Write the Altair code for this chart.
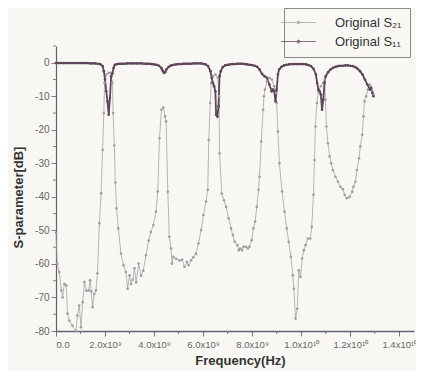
import altair as alt
import pandas as pd

# ---- data (frequency in GHz, level in dB) ----
s21_freq = [0.0, 0.05, 0.13, 0.22, 0.27, 0.34, 0.42, 0.47, 0.54, 0.67, 0.82, 0.87, 0.95, 1.02, 1.09,
            1.16, 1.24, 1.33, 1.39, 1.44, 1.49, 1.56, 1.63, 1.69, 1.77, 1.84, 1.9, 1.95, 1.98, 2.05,
            2.15, 2.25, 2.3, 2.33, 2.38, 2.42, 2.47, 2.54, 2.65, 2.75, 2.85, 2.92, 3.0, 3.06, 3.13,
            3.2, 3.27, 3.37, 3.47, 3.56, 3.67, 3.78, 3.87, 3.97, 4.08, 4.15, 4.22, 4.3, 4.38, 4.45,
            4.49, 4.56, 4.62, 4.69, 4.73, 4.79, 4.9, 5.04, 5.14, 5.24, 5.34, 5.41, 5.51, 5.6, 5.71,
            5.81, 5.92, 6.01, 6.12, 6.19, 6.23, 6.29, 6.33, 6.4, 6.5, 6.6, 6.65, 6.67, 6.76, 6.85,
            6.94, 7.04, 7.14, 7.21, 7.29, 7.4, 7.45, 7.51, 7.59, 7.64, 7.75, 7.82, 7.89, 7.98, 8.05,
            8.12, 8.19, 8.26, 8.3, 8.37, 8.45, 8.48, 8.52, 8.6, 8.7, 8.8, 8.9, 8.97, 9.0, 9.05,
            9.11, 9.22, 9.32, 9.41, 9.49, 9.58, 9.66, 9.7, 9.77, 9.84, 9.9, 9.97, 10.04, 10.11, 10.18,
            10.27, 10.37, 10.43, 10.5, 10.54, 10.58, 10.64, 10.7, 10.8, 10.9, 10.95, 10.99, 11.03, 11.09, 11.16,
            11.22, 11.29, 11.4, 11.5, 11.6, 11.7, 11.77, 11.86, 11.97, 12.08, 12.13, 12.21, 12.27, 12.36, 12.41,
            12.49, 12.54, 12.58, 12.65, 12.72, 12.8, 12.85, 12.9, 12.95]
s21_db = [-50.7, -60.0, -62.4, -67.9, -70.0, -65.9, -66.4, -74.8, -76.9, -78.4, -80.0, -75.4, -72.4, -78.9, -71.4,
          -65.4, -68.0, -67.9, -64.9, -68.2, -72.9, -69.0, -67.9, -62.8, -47.9, -38.9, -26.0, -15.0, -6.0, -3.5,
          -3.0, -3.0, -6.0, -15.0, -24.7, -35.7, -43.4, -49.4, -56.9, -60.4, -62.4, -67.4, -63.4, -66.0, -64.7,
          -61.3, -65.5, -59.9, -63.5, -62.0, -57.4, -53.0, -50.5, -48.4, -44.4, -38.4, -22.5, -14.0, -13.4, -16.0,
          -17.5, -38.5, -51.9, -55.4, -59.9, -57.9, -58.5, -59.0, -58.7, -60.9, -59.4, -60.4, -58.9, -58.0, -57.0,
          -53.9, -49.9, -45.4, -41.4, -37.9, -23.0, -12.0, -6.0, -4.0, -3.5, -4.5, -10.0, -27.0, -39.0, -41.0,
          -43.0, -46.4, -49.4, -51.4, -53.4, -54.4, -55.9, -55.4, -55.9, -54.9, -54.9, -55.4, -54.9, -52.9, -49.4,
          -47.4, -43.0, -37.9, -34.0, -23.5, -14.0, -10.0, -8.0, -5.5, -4.5, -5.0, -7.0, -9.0, -12.0, -20.5,
          -30.0, -38.4, -44.4, -49.4, -53.4, -57.9, -63.4, -67.4, -76.3, -73.4, -61.9, -63.9, -58.4, -55.9, -54.4,
          -52.4, -52.4, -48.9, -39.4, -29.0, -19.0, -12.0, -8.5, -7.0, -6.0, -5.0, -11.0, -19.0, -24.0, -27.9,
          -30.0, -32.0, -34.0, -35.5, -37.0, -37.7, -39.4, -40.4, -40.0, -38.5, -37.0, -35.5, -32.0, -28.5, -25.0,
          -21.5, -16.0, -11.5, -10.0, -8.0, -6.5, -7.5, -8.5, -9.5]

s11_freq = [0.0, 0.1, 0.2, 0.3, 0.4, 0.5, 0.6, 0.7, 0.8, 0.9, 1.0, 1.1, 1.2, 1.3, 1.4, 1.5, 1.6, 1.7, 1.8,
            1.9, 1.95, 2.0, 2.05, 2.1, 2.15, 2.2, 2.25, 2.3, 2.35, 2.4, 2.5, 2.6, 2.7, 2.8, 2.9, 3.0,
            3.1, 3.2, 3.3, 3.4, 3.5, 3.6, 3.7, 3.8, 3.9, 4.0, 4.1, 4.2, 4.3, 4.35, 4.4, 4.45, 4.5,
            4.6, 4.7, 4.8, 4.9, 5.0, 5.1, 5.2, 5.3, 5.4, 5.5, 5.6, 5.7, 5.8, 5.9, 6.0, 6.1, 6.2,
            6.3, 6.35, 6.4, 6.45, 6.5, 6.53, 6.58, 6.63, 6.67, 6.72, 6.8, 6.9, 7.0, 7.1, 7.2, 7.3,
            7.4, 7.5, 7.6, 7.7, 7.8, 7.9, 8.0, 8.1, 8.2, 8.3, 8.4, 8.5, 8.6, 8.7, 8.8, 8.85, 8.9,
            8.95, 9.0, 9.05, 9.1, 9.2, 9.3, 9.4, 9.5, 9.6, 9.7, 9.8, 9.9, 10.0, 10.1, 10.2, 10.3,
            10.4, 10.5, 10.6, 10.65, 10.7, 10.75, 10.8, 10.85, 10.9, 10.95, 11.0, 11.1, 11.2, 11.3, 11.4,
            11.5, 11.6, 11.7, 11.8, 11.9, 12.0, 12.1, 12.2, 12.3, 12.4, 12.5, 12.6, 12.7, 12.8, 12.85,
            12.9, 12.95]
s11_db = [-0.1, -0.1, -0.1, -0.1, -0.1, -0.1, -0.1, -0.1, -0.1, -0.1, -0.1, -0.1, -0.1, -0.1, -0.2, -0.2, -0.2, -0.3, -0.4,
          -1.0, -2.5, -5.0, -8.5, -11.5, -15.5, -10.5, -4.0, -3.2, -1.5, -0.6, -0.4, -0.3, -0.3, -0.3, -0.2, -0.2,
          -0.2, -0.2, -0.2, -0.2, -0.2, -0.3, -0.3, -0.3, -0.4, -0.5, -0.6, -0.9, -1.6, -2.4, -3.0, -2.8, -2.0,
          -1.2, -0.8, -0.6, -0.5, -0.4, -0.4, -0.3, -0.3, -0.3, -0.3, -0.2, -0.2, -0.2, -0.2, -0.3, -0.5, -1.0,
          -2.5, -4.5, -6.0, -7.0, -8.5, -15.5, -16.0, -13.0, -4.0, -2.5, -1.3, -0.8, -0.6, -0.5, -0.4, -0.4,
          -0.3, -0.3, -0.3, -0.4, -0.5, -0.6, -0.7, -0.9, -1.2, -2.0, -3.3, -4.0, -4.5, -6.5, -8.5, -8.0, -8.5,
          -11.5, -8.0, -3.5, -2.0, -1.2, -0.8, -0.6, -0.5, -0.4, -0.4, -0.4, -0.4, -0.4, -0.4, -0.5, -0.7,
          -1.0, -1.8, -3.5, -6.0, -8.0, -8.5, -9.5, -14.0, -11.0, -6.0, -4.0, -2.8, -2.0, -1.5, -1.2,
          -1.0, -0.9, -0.9, -0.8, -0.8, -0.9, -1.0, -1.3, -1.8, -2.5, -3.5, -5.0, -6.5, -8.0, -7.5,
          -9.0, -10.0]

series_names = ["Original S\u2082\u2081", "Original S\u2081\u2081"]
series_colors = ["#a29ea0", "#5e4658"]

x_major = [0, 2, 4, 6, 8, 10, 12, 14]
x_minor = [1, 3, 5, 7, 9, 11, 13]
y_major = [0, -10, -20, -30, -40, -50, -60, -70, -80]
y_minor = [5, -5, -15, -25, -35, -45, -55, -65, -75]

df_a = pd.DataFrame({"f": s21_freq, "db": s21_db, "series": series_names[0]})
df_b = pd.DataFrame({"f": s11_freq, "db": s11_db, "series": series_names[1]})
df_all = pd.concat([df_a, df_b], ignore_index=True)

FONT = "Liberation Sans"
W, H = 358, 285
x_scale = alt.Scale(domain=[0, 14.6], nice=False, zero=False)
y_scale = alt.Scale(domain=[-80, 5], nice=False, zero=False)

# line-with-dot legend symbol (path units scaled by sqrt(symbolSize)/2)
sym = "M-3,0L3,0M-0.25,0A0.25,0.25,0,1,1,0.25,0A0.25,0.25,0,1,1,-0.25,0Z"
legend = alt.Legend(title=None, orient="none", legendX=228, legendY=-38,
                    symbolType=sym, symbolSize=136, symbolStrokeWidth=1,
                    labelFont=FONT, labelFontSize=13, labelColor="#333333",
                    strokeColor="#8a8a8a", padding=8, rowPadding=5, labelOffset=30)
color = alt.Color("series:N", scale=alt.Scale(domain=series_names, range=series_colors),
                  legend=legend, sort=series_names)

x_axis = alt.Axis(values=x_major, title="Frequency(Hz)", grid=False,
                  labelExpr="datum.value == 0 ? '0.0' : (datum.value < 10 ? format(datum.value, '.1f') + 'x10\u2079' : format(datum.value / 10, '.1f') + 'x10\u00b9\u2070')",
                  labelFont=FONT, labelFontSize=9.5, labelColor="#666666", labelPadding=3,
                  tickSize=5, tickColor="#777777", domainColor="#66606e", domainWidth=1.5,
                  titleFont=FONT, titleFontSize=13, titleFontWeight="bold", titleColor="#333333",
                  titlePadding=6, titleX=184)
y_axis = alt.Axis(values=y_major, title="S-parameter[dB]", grid=False,
                  labelExpr="'' + datum.value",
                  labelFont=FONT, labelFontSize=10, labelColor="#666666", labelPadding=2,
                  tickSize=5, tickColor="#8a7a80", domainColor="#66606e", domainWidth=1.2,
                  titleFont=FONT, titleFontSize=13, titleFontWeight="bold", titleColor="#333333",
                  titlePadding=9, titleY=151)

line_a = alt.Chart(df_a).mark_line(strokeWidth=1, opacity=0.75).encode(
    x=alt.X("f:Q", scale=x_scale, axis=x_axis),
    y=alt.Y("db:Q", scale=y_scale, axis=y_axis),
    color=color,
)
line_b = alt.Chart(df_b).mark_line(strokeWidth=1.8).encode(
    x=alt.X("f:Q", scale=x_scale, axis=x_axis),
    y=alt.Y("db:Q", scale=y_scale, axis=y_axis),
    color=color,
)
pts = alt.Chart(df_all).mark_point(filled=True, size=7, opacity=1).encode(
    x=alt.X("f:Q", scale=x_scale, axis=x_axis),
    y=alt.Y("db:Q", scale=y_scale, axis=y_axis),
    color=color,
)

xminor = alt.Chart(pd.DataFrame({"t": x_minor})).mark_rule(color="#777777").encode(
    x=alt.X("t:Q", scale=x_scale, axis=x_axis),
    y=alt.value(H), y2=alt.value(H + 3),
)
yminor = alt.Chart(pd.DataFrame({"t": y_minor})).mark_rule(color="#8a7a80").encode(
    y=alt.Y("t:Q", scale=y_scale, axis=y_axis),
    x=alt.value(-3), x2=alt.value(0),
)

chart = alt.layer(line_a, line_b, pts, xminor, yminor).properties(
    width=W, height=H,
    autosize=alt.AutoSizeParams(type="none"),
    padding={"left": 48, "top": 38, "right": 2, "bottom": 40},
    background="#f8f7f3",
).configure_view(stroke=None)

chart.save("out.html", embed_options={"renderer": "svg", "actions": False})
